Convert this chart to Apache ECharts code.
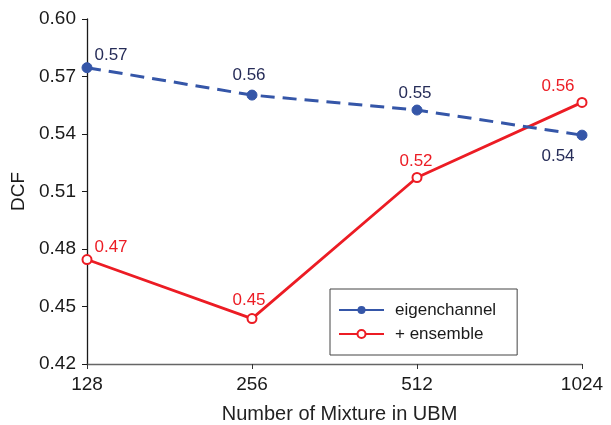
<!DOCTYPE html>
<html><head><meta charset="utf-8">
<script src="https://cdn.jsdelivr.net/npm/echarts@6/dist/echarts.min.js"></script>
<style>html,body{margin:0;padding:0;background:#fff}#c{width:611px;height:425px}</style>
</head><body><div id="c"></div>
<script>
const categories = ['128', '256', '512', '1024'];
const eigenValues = [0.5746, 0.5603, 0.5525, 0.5394];
const eigenLabels = ['0.57', '0.56', '0.55', '0.54'];
const ensembleValues = [0.4745, 0.4437, 0.5173, 0.5565];
const ensembleLabels = ['0.47', '0.45', '0.52', '0.56'];
const yTicks = [0.42, 0.45, 0.48, 0.51, 0.54, 0.57, 0.60];

const FONT = '"Liberation Sans", Arial, sans-serif';
const BLUE = '#3556a8';
const RED = '#ec1c24';
const NAVY = '#262c58';

// label placement offsets (layout only)
const eigenOffsets = [[24, -12], [-3, -20], [-2, -17], [-24, 21]];
const ensembleOffsets = [[24, -12], [-3, -18], [-1, -16], [-24, -16]];

function build(values, labels, offsets, color) {
  return values.map((v, i) => ({
    value: v,
    label: {show: true, position: 'inside', offset: offsets[i], formatter: labels[i],
      fontFamily: FONT, fontSize: 17, color: color}
  }));
}

const chart = echarts.init(document.getElementById('c'), null, {renderer: 'canvas'});
chart.setOption({
  animation: false,
  backgroundColor: '#fff',
  grid: {left: 87, right: 29, top: 19, bottom: 61, containLabel: false, outerBoundsMode: 'none'},
  xAxis: {
    type: 'category', data: categories, boundaryGap: false,
    name: 'Number of Mixture in UBM', nameLocation: 'middle', nameGap: 40,
    nameTextStyle: {fontFamily: FONT, fontSize: 20, color: '#222', padding: [0, 0, 0, 10]},
    axisLine: {lineStyle: {color: '#666', width: 1.3}},
    axisTick: {alignWithLabel: true, length: 5, lineStyle: {color: '#333'}},
    axisLabel: {fontFamily: FONT, fontSize: 19, color: '#1a1a1a', margin: 11},
    splitLine: {show: false}
  },
  yAxis: {
    type: 'value', min: 0.42, max: 0.60, interval: 0.03,
    name: 'DCF', nameLocation: 'middle', nameGap: 59,
    nameTextStyle: {fontFamily: FONT, fontSize: 19, color: '#1a1a1a'},
    axisLine: {show: true, lineStyle: {color: '#1a1a1a', width: 1.3}},
    axisTick: {show: true, length: 5, lineStyle: {color: '#1a1a1a'}},
    axisLabel: {fontFamily: FONT, fontSize: 19, color: '#1a1a1a', margin: 11,
      formatter: v => { const t = yTicks.find(x => Math.abs(x - v) < 1e-6); return t !== undefined ? t.toFixed(2) : ''; }},
    splitLine: {show: false}
  },
  legend: {
    orient: 'vertical', left: 330, top: 289,
    padding: [11, 21, 11, 8], itemGap: 4,
    itemWidth: 45, itemHeight: 10,
    borderColor: '#444', borderWidth: 1, backgroundColor: '#fff',
    textStyle: {fontFamily: FONT, fontSize: 17, color: '#1a1a1a', lineHeight: 20, padding: [0, 0, 0, 6]},
    data: [
      {name: 'eigenchannel', lineStyle: {type: 'solid'}},
      {name: '+ ensemble'}
    ]
  },
  series: [
    {
      name: 'eigenchannel', type: 'line',
      data: build(eigenValues, eigenLabels, eigenOffsets, NAVY),
      symbol: 'circle', symbolSize: 10,
      lineStyle: {color: BLUE, width: 3, type: [14, 8]},
      itemStyle: {color: BLUE, borderColor: BLUE},
      z: 3
    },
    {
      name: '+ ensemble', type: 'line',
      data: build(ensembleValues, ensembleLabels, ensembleOffsets, RED),
      symbol: 'circle', symbolSize: 9,
      lineStyle: {color: RED, width: 2.8},
      itemStyle: {color: '#fff', borderColor: RED, borderWidth: 2},
      z: 2
    }
  ]
});
</script></body></html>
